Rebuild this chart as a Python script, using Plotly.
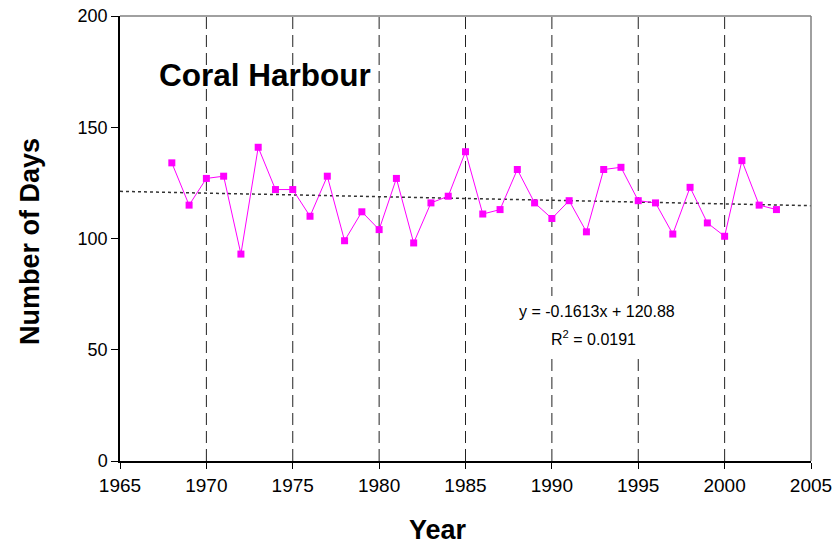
import plotly.graph_objects as go

years = list(range(1968, 2004))
days = [134, 115, 127, 128, 93, 141, 122, 122, 110, 128, 99, 112,
        104, 127, 98, 116, 119, 139, 111, 113, 131, 116, 109, 117,
        103, 131, 132, 117, 116, 102, 123, 107, 101, 135, 115, 113]

# excel-style linear trend, x = 1 for the first year
slope = -0.1613
intercept = 120.88
trend_x = [1965, 2005]
trend_y = [intercept + slope * (x - years[0] + 1) for x in trend_x]

font = "Liberation Sans, Arial, sans-serif"

W, H = 836, 546
ML, MR, MT, MB = 120, 25, 16, 85
plot_w = W - ML - MR
plot_h = H - MT - MB


def paper_x(px):
    return (px - ML) / plot_w


def paper_y(py):
    return 1 - (py - MT) / plot_h


fig = go.Figure()
fig.add_trace(go.Scatter(x=trend_x, y=trend_y, mode="lines",
                         line=dict(color="#333333", width=1.5, dash="dot"),
                         hoverinfo="skip"))
fig.add_trace(go.Scatter(x=years, y=days, mode="lines+markers",
                         line=dict(color="#ff00ff", width=1),
                         marker=dict(symbol="square", size=7, color="#ff00ff")))

# dashed vertical grid lines
for yr in range(1970, 2005, 5):
    fig.add_shape(type="line", x0=yr, x1=yr, y0=0, y1=200, xref="x", yref="y",
                  line=dict(color="#222222", width=1, dash="12px,6px"), layer="below")
# white box behind the trend equation (hides the grid lines there)
fig.add_shape(type="rect", x0=1987.0, x1=1998.4, y0=47.6, y1=74.2,
              xref="x", yref="y",
              fillcolor="white", line=dict(width=0), layer="below")
# grey frame on top and right
fig.add_shape(type="line", x0=0, x1=1, y0=1, y1=1, xref="paper", yref="paper",
              line=dict(color="#808080", width=1.5))
fig.add_shape(type="line", x0=1, x1=1, y0=0, y1=1, xref="paper", yref="paper",
              line=dict(color="#808080", width=1.5))

fig.add_annotation(x=paper_x(157), y=paper_y(75), xref="paper", yref="paper",
                   xanchor="left", yanchor="middle",
                   text="<b>Coral Harbour</b>", showarrow=False,
                   font=dict(family=font, size=31.5, color="black"))
fig.add_annotation(x=1992.6, y=67.4, text="y = -0.1613x + 120.88", showarrow=False,
                   xanchor="center", yanchor="middle",
                   font=dict(family=font, size=16, color="black"))
fig.add_annotation(x=1992.4, y=55.3, text="R<sup>2</sup> = 0.0191", showarrow=False,
                   xanchor="center", yanchor="middle",
                   font=dict(family=font, size=16, color="black"))

# axis titles placed by hand
fig.add_annotation(x=paper_x(30), y=paper_y(242), xref="paper", yref="paper",
                   xanchor="center", yanchor="middle",
                   text="<b>Number of Days</b>", textangle=-90, showarrow=False,
                   font=dict(family=font, size=27, color="black"))
fig.add_annotation(x=paper_x(438), y=paper_y(530), xref="paper", yref="paper",
                   xanchor="center", yanchor="middle",
                   text="<b>Year</b>", showarrow=False,
                   font=dict(family=font, size=27, color="black"))

fig.update_layout(
    width=W, height=H,
    margin=dict(l=ML, r=MR, t=MT, b=MB, autoexpand=False),
    plot_bgcolor="white", paper_bgcolor="white",
    showlegend=False,
    font=dict(family=font, size=18, color="black"),
    xaxis=dict(range=[1965, 2005], tickvals=list(range(1965, 2006, 5)),
               showgrid=False, zeroline=False, showline=True, linecolor="black",
               linewidth=1.5, ticks="outside", ticklen=6, tickcolor="black",
               tickfont=dict(size=19), automargin=False,
               ticklabeloverflow="allow"),
    yaxis=dict(range=[0, 200], tickvals=[0, 50, 100, 150, 200],
               showgrid=False, zeroline=False, showline=True, linecolor="black",
               linewidth=1.5, ticks="outside", ticklen=7, tickcolor="black",
               tickfont=dict(size=18), automargin=False,
               ticklabeloverflow="allow"),
)

# drop the default body margin so the figure fills the window
fig.write_html("out.html", config={"displayModeBar": False},
               post_script="document.body.style.margin='0';")
